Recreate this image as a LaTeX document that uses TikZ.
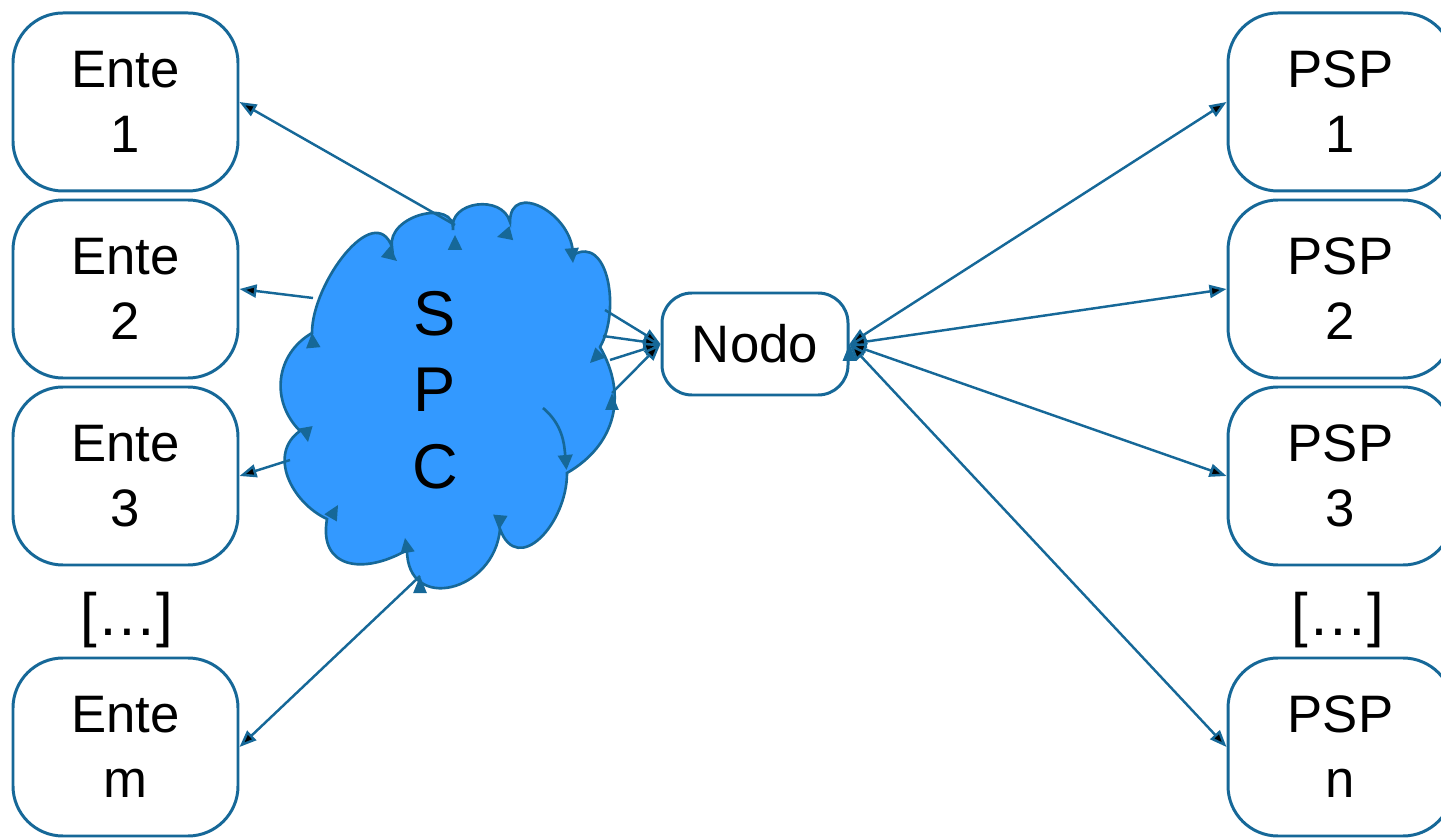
\documentclass[tikz,border=0pt]{standalone}
\usepackage{fontspec}
\setmainfont{Liberation Sans}
\usetikzlibrary{arrows.meta}
\definecolor{linea}{RGB}{22,104,152}
\definecolor{nube}{RGB}{51,153,255}

\begin{document}
\begin{tikzpicture}[>={Triangle[length=1.7mm,width=1.3mm]},line width=0.7pt]
  \tikzstyle{box} = [rectangle, rounded corners=5mm, draw=linea, fill=white,
    line width=0.85pt, minimum width=2.25cm, minimum height=1.78cm,
    inner sep=0pt, align=center, font=\fontsize{15}{18.5}\selectfont]
  \tikzstyle{dots} = [inner sep=0pt, font=\fontsize{17}{20}\selectfont]
  \tikzstyle{link} = [draw=linea, line width=0.7pt]
  \tikzstyle{puff} = [draw=linea, line width=0.75pt]

  \useasboundingbox (0,0) rectangle (14.41,8.37);

  % Enti
  \node[box] (e1) at (1.255,7.35) {Ente\\1};
  \node[box] (e2) at (1.255,5.48) {Ente\\2};
  \node[box] (e3) at (1.255,3.61) {Ente\\3};
  \node[dots] (ed) at (1.27,2.17) {[…]};
  \node[box] (e4) at (1.255,0.90) {Ente\\m};

  % PSP
  \node[box] (p1) at (13.405,7.35) {PSP\\1};
  \node[box] (p2) at (13.405,5.48) {PSP\\2};
  \node[box] (p3) at (13.405,3.61) {PSP\\3};
  \node[dots] (pd) at (13.38,2.17) {[…]};
  \node[box] (p4) at (13.405,0.90) {PSP\\n};

  \node[box, minimum width=1.86cm, minimum height=1.02cm,
        rounded corners=3mm] (nodo) at (7.55,4.93) {Nodo};

  \draw[link,<->]
        (nodo.east) edge (p1.west)
        (nodo.east) edge (p2.west)
        (nodo.east) edge (p3.west)
        (nodo.east) edge (p4.west);

  % nuvola SPC
  \coordinate (c1)  at (3.12,5.04);
  \coordinate (c2)  at (3.92,5.90);
  \coordinate (c3)  at (4.53,6.07);
  \coordinate (c4)  at (5.10,6.15);
  \coordinate (c5)  at (5.73,5.82);
  \coordinate (c6)  at (6.00,4.90);
  \coordinate (c7)  at (5.67,3.64);
  \coordinate (c8)  at (5.00,3.08);
  \coordinate (c9)  at (4.07,2.87);
  \coordinate (c10) at (3.27,3.18);
  \coordinate (c11) at (3.00,4.06);

  \def\puffs{c1/c2/90/110/1.1, c2/c3/100/85/1.3, c3/c4/100/105/1.3,
    c4/c5/90/90/1.5, c5/c6/30/60/1.1, c6/c7/-60/30/1.1, c7/c8/-90/-70/1.5,
    c8/c9/-95/-90/1.7, c9/c10/-150/-100/1.5, c10/c11/155/-145/1.1,
    c11/c1/135/-150/1.1}

  \filldraw[puff, fill=nube] (c1) \foreach \a/\b/\o/\i/\l in \puffs {
      to[out=\o,in=\i,looseness=\l] (\b) } -- cycle;

  % archetti e punte della nuvola
  \coordinate (a1) at (5.43,4.29);
  \coordinate (a2) at (5.665,3.67);
  \draw[puff, -{Triangle[length=1.5mm,width=1.45mm]}] (a1) to[out=-40,in=95] (a2);
  \foreach \x/\y/\d in {3.12/5.04/95, 3.97/5.76/-40, 4.55/6.02/90,
      4.97/6.00/195, 5.73/5.74/-85, 5.90/4.74/225, 4.99/3.07/-95,
      4.05/2.99/100, 3.38/3.32/60, 3.08/3.95/-80}
    \fill[linea] (\x,\y) -- +(\d+206:1.65mm) -- +(\d+154:1.65mm) -- cycle;

  \node[align=center, font=\fontsize{18}{21.8}\selectfont] (spc)
        at (4.35,4.47) {S\\P\\C};

  % punti sul bordo della nuvola
  \coordinate (s1) at (4.55,6.12);
  \coordinate (s2) at (3.13,5.39);
  \coordinate (s3) at (2.90,3.77);
  \coordinate (s4) at (4.20,2.61);
  \coordinate (n1) at (6.05,5.27);
  \coordinate (n2) at (6.03,5.01);
  \coordinate (n3) at (6.10,4.77);
  \coordinate (n4) at (6.12,4.44);

  \draw[link,->]
        (s1) edge (e1.east)
        (s2) edge (e2.east)
        (s3) edge (e3.east)
        (s4) edge (e4.east);

  \draw[link,->]
        (n1) edge (nodo.west)
        (n2) edge (nodo.west)
        (n3) edge (nodo.west)
        (n4) edge (nodo.west);
\end{tikzpicture}
\end{document}
